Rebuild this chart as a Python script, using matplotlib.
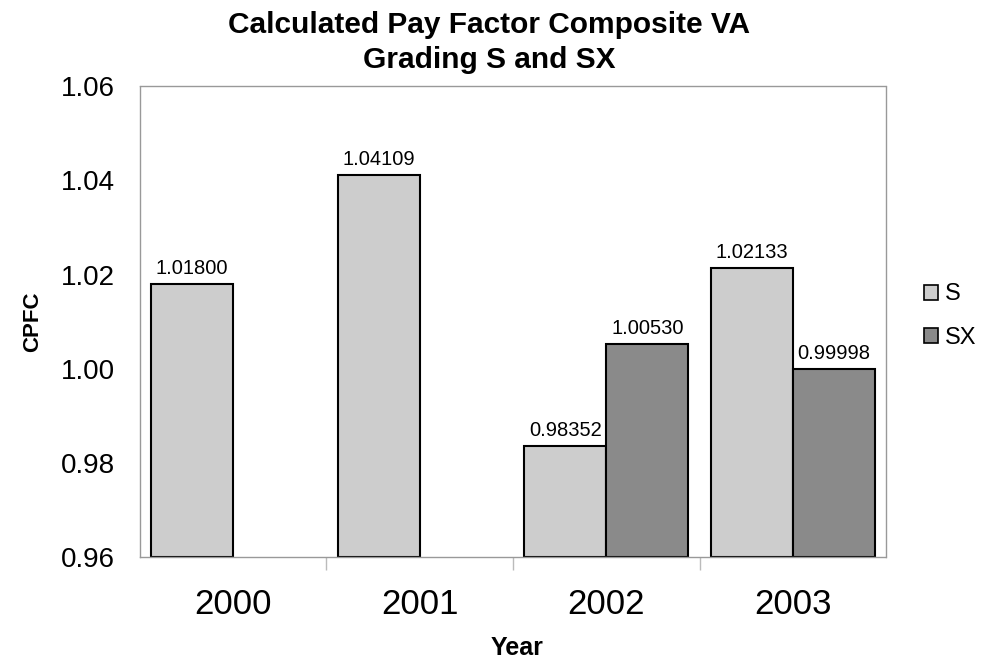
import numpy as np
import matplotlib
matplotlib.use("Agg")
import matplotlib.pyplot as plt
from matplotlib.patches import Patch

years = ["2000", "2001", "2002", "2003"]
s_vals = [1.01800, 1.04109, 0.98352, 1.02133]
sx_vals = [np.nan, np.nan, 1.00530, 0.99998]
yticks = [0.96, 0.98, 1.00, 1.02, 1.04, 1.06]

plt.rcParams['font.family'] = ['Liberation Sans', 'DejaVu Sans']

fig = plt.figure(figsize=(9.99, 6.64), dpi=100)
ax = fig.add_axes([0.140, 0.161, 0.747, 0.709])

x = np.arange(len(years))
w = 0.44
c_s = '#cdcdcd'
c_sx = '#8a8a8a'
ax.bar(x - w / 2, np.array(s_vals) - 0.96, width=w, bottom=0.96, color=c_s,
       edgecolor='black', linewidth=1.5, label='S')
ax.bar(x + w / 2, np.array(sx_vals) - 0.96, width=w, bottom=0.96, color=c_sx,
       edgecolor='black', linewidth=1.5, label='SX')

for xs, v in zip(x - w / 2, s_vals):
    ax.text(xs, v + 0.0013, f"{v:.5f}", ha='center', va='bottom', fontsize=14.5)
for xs, v in zip(x + w / 2, sx_vals):
    if not np.isnan(v):
        ax.text(xs, v + 0.0013, f"{v:.5f}", ha='center', va='bottom', fontsize=14.5)

ax.set_xlim(-0.5, 3.5)
ax.set_ylim(0.96, 1.06)
ax.set_yticks(yticks)
ax.set_yticklabels([f"{t:.2f}" for t in yticks], fontsize=20)
ax.set_xticks(x)
ax.set_xticklabels(years, fontsize=25)
ax.set_xticks([0.5, 1.5, 2.5], minor=True)
ax.tick_params(axis='x', which='major', length=0, pad=22)
ax.tick_params(axis='x', which='minor', length=9, color='#bbbbbb', width=1)
ax.tick_params(axis='y', length=0, pad=18)

for sp in ax.spines.values():
    sp.set_linestyle((0, (1, 1)))
    sp.set_color('#999999')
    sp.set_linewidth(1.0)

ax.set_ylabel('CPFC', fontsize=16, fontweight='bold')
ax.yaxis.set_label_coords(-0.13, 0.5)
ax.set_xlabel('Year', fontsize=18, fontweight='bold')
ax.xaxis.set_label_coords(0.505, -0.168)

fig.text(0.49, 0.950, 'Calculated Pay Factor Composite VA', ha='center', va='baseline',
         fontsize=21.5, fontweight='bold')
fig.text(0.49, 0.898, 'Grading S and SX', ha='center', va='baseline',
         fontsize=21.5, fontweight='bold')

handles = [Patch(facecolor=c_s, edgecolor='black', linewidth=1.2),
           Patch(facecolor=c_sx, edgecolor='black', linewidth=1.2)]
fig.legend(handles, ['S', 'SX'], loc='center left', bbox_to_anchor=(0.925, 0.524),
           frameon=False, fontsize=17, handlelength=0.6, handleheight=0.6,
           handletextpad=0.3, labelspacing=0.9, borderpad=0, borderaxespad=0)

fig.savefig('out.png', dpi=100)
